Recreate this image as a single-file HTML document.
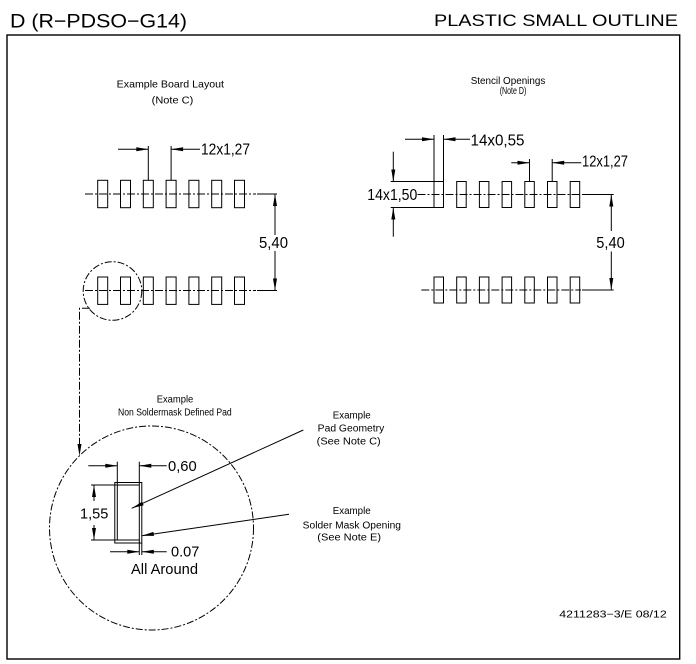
<!DOCTYPE html>
<html><head><meta charset="utf-8"><style>
html,body{margin:0;padding:0;background:#fff;}
svg{display:block;}
text{font-family:"Liberation Sans",sans-serif;fill:#000;}
</style></head><body>
<svg width="696" height="664" viewBox="0 0 696 664" xmlns="http://www.w3.org/2000/svg">
<rect x="0" y="0" width="696" height="664" fill="#fff"/>
<!-- titles -->
<text x="10" y="27.7" font-size="19.5" textLength="177" lengthAdjust="spacingAndGlyphs">D (R−PDSO−G14)</text>
<text x="434" y="26" font-size="17" textLength="244" lengthAdjust="spacingAndGlyphs">PLASTIC  SMALL  OUTLINE</text>
<!-- frame -->
<rect x="7" y="35" width="672.7" height="624" fill="none" stroke="#000" stroke-width="1.4"/>

<g stroke="#000" stroke-width="1" fill="none">
<!-- Board layout centre lines -->
<line x1="85" y1="194" x2="256" y2="194" stroke-dasharray="8,2,2,2"/>
<line x1="257" y1="194" x2="277" y2="194"/>
<line x1="85" y1="290.5" x2="256" y2="290.5" stroke-dasharray="8,2,2,2"/>
<line x1="257" y1="290.5" x2="277" y2="290.5"/>
<!-- board pads top -->
<rect x="97.7" y="180.3" width="10" height="27.4"/>
<rect x="120.5" y="180.3" width="10" height="27.4"/>
<rect x="143.3" y="180.3" width="10" height="27.4"/>
<rect x="166.1" y="180.3" width="10" height="27.4"/>
<rect x="188.9" y="180.3" width="10" height="27.4"/>
<rect x="211.7" y="180.3" width="10" height="27.4"/>
<rect x="234.5" y="180.3" width="10" height="27.4"/>
<!-- board pads bottom -->
<rect x="97.7" y="277" width="10" height="27.4"/>
<rect x="120.5" y="277" width="10" height="27.4"/>
<rect x="143.3" y="277" width="10" height="27.4"/>
<rect x="166.1" y="277" width="10" height="27.4"/>
<rect x="188.9" y="277" width="10" height="27.4"/>
<rect x="211.7" y="277" width="10" height="27.4"/>
<rect x="234.5" y="277" width="10" height="27.4"/>
<!-- 12x1,27 board -->
<line x1="148.3" y1="146" x2="148.3" y2="180.3"/>
<line x1="171.1" y1="146" x2="171.1" y2="180.3"/>
<line x1="118" y1="149.3" x2="148.3" y2="149.3"/>
<line x1="171.1" y1="149.3" x2="200" y2="149.3"/>
<!-- 5,40 board -->
<line x1="275" y1="194" x2="275" y2="235"/>
<line x1="275" y1="251" x2="275" y2="290.5"/>
<!-- small dash-dot circle -->
<circle cx="112.5" cy="291" r="29.3" stroke-dasharray="7,2,2,2"/>
<polyline points="90,308.3 79.5,308.3 79.5,444" stroke-dasharray="8,2,2,2"/>

<!-- Stencil centre lines -->
<line x1="417.5" y1="194.5" x2="581" y2="194.5" stroke-dasharray="8,2,2,2"/>
<line x1="582" y1="194.5" x2="613.7" y2="194.5"/>
<line x1="421.3" y1="290" x2="581" y2="290" stroke-dasharray="8,2,2,2"/>
<line x1="582" y1="290" x2="613.7" y2="290"/>
<!-- stencil pads top -->
<rect x="434" y="181.5" width="9.5" height="26"/>
<rect x="456.7" y="181.5" width="9.5" height="26"/>
<rect x="479.4" y="181.5" width="9.5" height="26"/>
<rect x="502.1" y="181.5" width="9.5" height="26"/>
<rect x="524.8" y="181.5" width="9.5" height="26"/>
<rect x="547.5" y="181.5" width="9.5" height="26"/>
<rect x="570.2" y="181.5" width="9.5" height="26"/>
<!-- stencil pads bottom -->
<rect x="434" y="277" width="9.5" height="26"/>
<rect x="456.7" y="277" width="9.5" height="26"/>
<rect x="479.4" y="277" width="9.5" height="26"/>
<rect x="502.1" y="277" width="9.5" height="26"/>
<rect x="524.8" y="277" width="9.5" height="26"/>
<rect x="547.5" y="277" width="9.5" height="26"/>
<rect x="570.2" y="277" width="9.5" height="26"/>
<!-- 14x1,50 -->
<line x1="390.7" y1="181.5" x2="434" y2="181.5"/>
<line x1="390.7" y1="207.5" x2="434" y2="207.5"/>
<line x1="393.3" y1="151.7" x2="393.3" y2="181.5"/>
<line x1="393.3" y1="207.5" x2="393.3" y2="236.7"/>
<!-- 14x0,55 -->
<line x1="434" y1="135" x2="434" y2="181.5"/>
<line x1="443.5" y1="135" x2="443.5" y2="181.5"/>
<line x1="405" y1="139.3" x2="434" y2="139.3"/>
<line x1="443.5" y1="139.3" x2="470" y2="139.3"/>
<!-- 12x1,27 stencil -->
<line x1="529.5" y1="159" x2="529.5" y2="181.5"/>
<line x1="552.2" y1="159" x2="552.2" y2="181.5"/>
<line x1="511.3" y1="162.7" x2="529.5" y2="162.7"/>
<line x1="552.2" y1="162.7" x2="581.3" y2="162.7"/>
<!-- 5,40 stencil -->
<line x1="611.3" y1="194.5" x2="611.3" y2="231"/>
<line x1="611.3" y1="251.5" x2="611.3" y2="290"/>

<!-- Big circle -->
<circle cx="151.5" cy="528" r="102" stroke-dasharray="7,2,2,2"/>
<!-- pad -->
<rect x="114.8" y="482.5" width="27" height="60.5"/>
<rect x="117.3" y="485" width="22" height="55"/>
<!-- 0,60 -->
<line x1="117.3" y1="461.7" x2="117.3" y2="485"/>
<line x1="139.3" y1="461.7" x2="139.3" y2="485"/>
<line x1="88.3" y1="465.7" x2="117.3" y2="465.7"/>
<line x1="139.3" y1="465.7" x2="166.7" y2="465.7"/>
<!-- 1,55 -->
<line x1="91" y1="485" x2="117.3" y2="485"/>
<line x1="91" y1="540" x2="117.3" y2="540"/>
<line x1="94" y1="485" x2="94" y2="501"/>
<line x1="94" y1="525" x2="94" y2="540"/>
<!-- 0.07 -->
<line x1="139.3" y1="540" x2="139.3" y2="555"/>
<line x1="141.8" y1="543" x2="141.8" y2="555"/>
<line x1="110" y1="551.7" x2="139.3" y2="551.7"/>
<line x1="141.8" y1="551.7" x2="166.7" y2="551.7"/>
<!-- leaders -->
<line x1="131.7" y1="508.3" x2="303.3" y2="430"/>
<line x1="141.8" y1="535.7" x2="289" y2="514.3"/>
</g>

<g fill="#000" stroke="none">
<!-- board arrows -->
<polygon points="148.3,149.3 136.3,147.3 136.3,151.3"/>
<polygon points="171.1,149.3 183.1,147.3 183.1,151.3"/>
<polygon points="275,194 273,206 277,206"/>
<polygon points="275,290.5 273,278.5 277,278.5"/>
<polygon points="79.5,456 77.5,444 81.5,444"/>
<!-- stencil arrows -->
<polygon points="393.3,181.5 391.3,169.5 395.3,169.5"/>
<polygon points="393.3,207.5 391.3,219.5 395.3,219.5"/>
<polygon points="434,139.3 422,137.3 422,141.3"/>
<polygon points="443.5,139.3 455.5,137.3 455.5,141.3"/>
<polygon points="529.5,162.7 517.5,160.7 517.5,164.7"/>
<polygon points="552.2,162.7 564.2,160.7 564.2,164.7"/>
<polygon points="611.3,194.5 609.3,206.5 613.3,206.5"/>
<polygon points="611.3,290 609.3,278 613.3,278"/>
<!-- detail arrows -->
<polygon points="117.3,465.7 105.3,463.7 105.3,467.7"/>
<polygon points="139.3,465.7 151.3,463.7 151.3,467.7"/>
<polygon points="94,485 92,497 96,497"/>
<polygon points="94,540 92,528 96,528"/>
<polygon points="139.3,551.7 127.3,549.7 127.3,553.7"/>
<polygon points="141.8,551.7 153.8,549.7 153.8,553.7"/>
<polygon points="131.7,508.3 142.0,501.7 143.7,505.3"/>
<polygon points="141.8,535.7 153.4,531.9 154.0,535.9"/>
</g>

<!-- labels -->
<text x="116.7" y="87.3" font-size="10.5" textLength="107.3" lengthAdjust="spacingAndGlyphs">Example Board Layout</text>
<text x="151.7" y="103.3" font-size="10.5" textLength="41.6" lengthAdjust="spacingAndGlyphs">(Note C)</text>
<text x="470.7" y="84" font-size="10" textLength="74.6" lengthAdjust="spacingAndGlyphs">Stencil Openings</text>
<text x="499.7" y="94" font-size="10" textLength="26.6" lengthAdjust="spacingAndGlyphs">(Note D)</text>

<text x="201" y="154.3" font-size="16" textLength="49" lengthAdjust="spacingAndGlyphs">12x1,27</text>
<text x="259" y="248" font-size="16" textLength="29" lengthAdjust="spacingAndGlyphs">5,40</text>
<text x="470.5" y="145.7" font-size="16" textLength="54" lengthAdjust="spacingAndGlyphs">14x0,55</text>
<text x="582" y="166.7" font-size="16" textLength="46" lengthAdjust="spacingAndGlyphs">12x1,27</text>
<text x="367.3" y="200" font-size="16" textLength="50" lengthAdjust="spacingAndGlyphs">14x1,50</text>
<text x="596.3" y="248" font-size="16" textLength="28.4" lengthAdjust="spacingAndGlyphs">5,40</text>

<text x="156.7" y="402.5" font-size="10" textLength="36.6" lengthAdjust="spacingAndGlyphs">Example</text>
<text x="118" y="415.7" font-size="10" textLength="113.7" lengthAdjust="spacingAndGlyphs">Non Soldermask Defined Pad</text>

<text x="168" y="471" font-size="15" textLength="28.7" lengthAdjust="spacingAndGlyphs">0,60</text>
<text x="80" y="518.3" font-size="15" textLength="28.3" lengthAdjust="spacingAndGlyphs">1,55</text>
<text x="171" y="556.7" font-size="15" textLength="28.3" lengthAdjust="spacingAndGlyphs">0.07</text>
<text x="131" y="574" font-size="15" textLength="67" lengthAdjust="spacingAndGlyphs">All Around</text>

<text x="332.7" y="418.3" font-size="10" textLength="38" lengthAdjust="spacingAndGlyphs">Example</text>
<text x="317.7" y="431.7" font-size="10" textLength="66.6" lengthAdjust="spacingAndGlyphs">Pad Geometry</text>
<text x="316.7" y="444.5" font-size="10" textLength="64" lengthAdjust="spacingAndGlyphs">(See Note C)</text>
<text x="332.7" y="514" font-size="10" textLength="38" lengthAdjust="spacingAndGlyphs">Example</text>
<text x="302.7" y="528.5" font-size="10" textLength="98.3" lengthAdjust="spacingAndGlyphs">Solder Mask Opening</text>
<text x="317.3" y="540.5" font-size="10" textLength="63.7" lengthAdjust="spacingAndGlyphs">(See Note E)</text>

<text x="559.3" y="617.3" font-size="10" textLength="107.4" lengthAdjust="spacingAndGlyphs">4211283−3/E  08/12</text>
</svg>
</body></html>
